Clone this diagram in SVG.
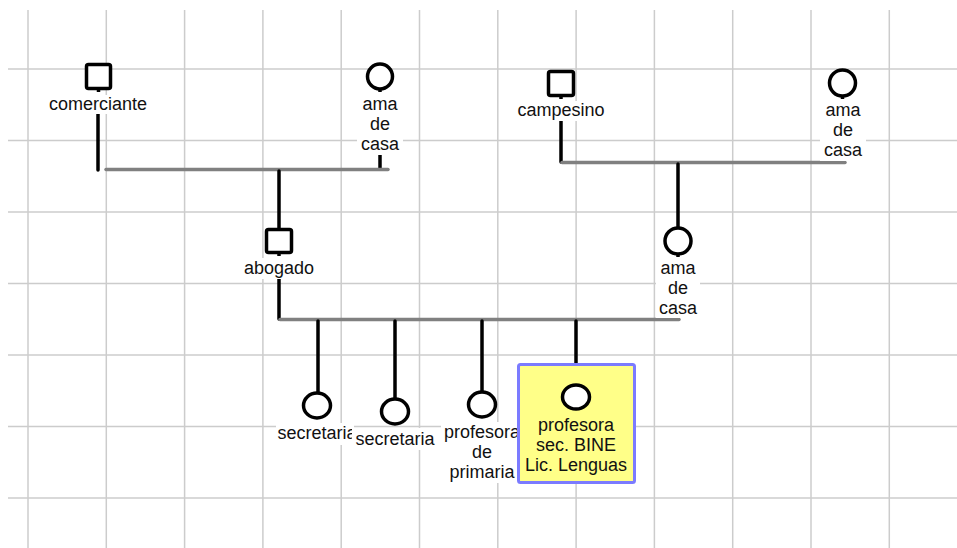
<svg xmlns="http://www.w3.org/2000/svg" width="957" height="548" viewBox="0 0 957 548">
<style>
.grid line{stroke:#cccccc;stroke-width:1.5}
.conn{stroke:#000;stroke-width:3.5;stroke-linecap:round;fill:none}
.couple{stroke:#808080;stroke-width:3.5;stroke-linecap:round;fill:none}
.sym{fill:#fff;stroke:#000;stroke-width:3.5}
.stub{stroke:#000;stroke-width:3.5}
.bg{fill:#fff}
text{font-family:"Liberation Sans",Arial,sans-serif;font-size:18px;fill:#111;text-anchor:middle}
</style>
<rect width="957" height="548" fill="#fff"/>
<g class="grid">
<line x1="28" y1="10" x2="28" y2="548"/>
<line x1="106.3" y1="10" x2="106.3" y2="548"/>
<line x1="184.6" y1="10" x2="184.6" y2="548"/>
<line x1="262.9" y1="10" x2="262.9" y2="548"/>
<line x1="341.2" y1="10" x2="341.2" y2="548"/>
<line x1="419.5" y1="10" x2="419.5" y2="548"/>
<line x1="497.8" y1="10" x2="497.8" y2="548"/>
<line x1="576.1" y1="10" x2="576.1" y2="548"/>
<line x1="654.4" y1="10" x2="654.4" y2="548"/>
<line x1="732.7" y1="10" x2="732.7" y2="548"/>
<line x1="811" y1="10" x2="811" y2="548"/>
<line x1="889.3" y1="10" x2="889.3" y2="548"/>
<line x1="8" y1="69" x2="957" y2="69"/>
<line x1="8" y1="140.5" x2="957" y2="140.5"/>
<line x1="8" y1="212" x2="957" y2="212"/>
<line x1="8" y1="283.5" x2="957" y2="283.5"/>
<line x1="8" y1="355" x2="957" y2="355"/>
<line x1="8" y1="426.5" x2="957" y2="426.5"/>
<line x1="8" y1="498" x2="957" y2="498"/>
</g>
<g id="connectors">
<line class="conn" x1="98" y1="114" x2="98" y2="170"/>
<line class="conn" x1="380" y1="155" x2="380" y2="168"/>
<line class="couple" x1="106" y1="169.5" x2="388" y2="169.5"/>
<line class="conn" x1="279" y1="171" x2="279" y2="228"/>
<line class="conn" x1="561" y1="121" x2="561" y2="162"/>
<line class="couple" x1="562" y1="162.5" x2="845" y2="162.5"/>
<line class="conn" x1="678" y1="164" x2="678" y2="228"/>
<line class="conn" x1="279" y1="279" x2="279" y2="319"/>
<line class="couple" x1="280" y1="319.5" x2="679" y2="319.5"/>
<line class="conn" x1="318" y1="321" x2="318" y2="392"/>
<line class="conn" x1="395" y1="321" x2="395" y2="398"/>
<line class="conn" x1="482" y1="321" x2="482" y2="391"/>
<line class="conn" x1="576" y1="321" x2="576" y2="364"/>
</g>
<g id="comerciante">
<rect class="sym" x="86.5" y="64.5" width="24" height="24" rx="2"/>
<line class="stub" x1="98.5" y1="89" x2="98.5" y2="92"/>
<rect class="bg" x="46" y="95" width="104" height="19"/>
<text x="98" y="110">comerciante</text>
</g>
<g id="ama1">
<circle class="sym" cx="380" cy="76.5" r="12.5"/>
<line class="stub" x1="380" y1="89" x2="380" y2="92"/>
<rect class="bg" x="357" y="95" width="46" height="60"/>
<text x="380" y="110">ama</text>
<text x="380" y="130">de</text>
<text x="380" y="150">casa</text>
</g>
<g id="campesino">
<rect class="sym" x="548.5" y="71.5" width="25" height="24" rx="2"/>
<line class="stub" x1="561" y1="96" x2="561" y2="99"/>
<rect class="bg" x="514" y="101" width="94" height="20"/>
<text x="561" y="116">campesino</text>
</g>
<g id="ama2">
<circle class="sym" cx="842.5" cy="83" r="13"/>
<line class="stub" x1="842.5" y1="96" x2="842.5" y2="99"/>
<rect class="bg" x="820" y="101" width="46" height="60"/>
<text x="843" y="116">ama</text>
<text x="843" y="136">de</text>
<text x="843" y="156">casa</text>
</g>
<g id="abogado">
<rect class="sym" x="266.5" y="229.5" width="25" height="23" rx="2"/>
<line class="stub" x1="279" y1="253" x2="279" y2="256"/>
<rect class="bg" x="242" y="258" width="75" height="21"/>
<text x="279" y="274">abogado</text>
</g>
<g id="ama3">
<circle class="sym" cx="678" cy="241" r="13"/>
<line class="stub" x1="678" y1="254" x2="678" y2="257"/>
<rect class="bg" x="656" y="259" width="44" height="59"/>
<text x="678" y="274">ama</text>
<text x="678" y="294">de</text>
<text x="678" y="314">casa</text>
</g>
<g id="hija1">
<ellipse class="sym" cx="317" cy="405.5" rx="13.5" ry="12.5"/>
<rect class="bg" x="276" y="423" width="78" height="22"/>
<text x="317" y="439">secretaria</text>
</g>
<g id="hija2">
<ellipse class="sym" cx="395" cy="411.5" rx="13.5" ry="12.5"/>
<rect class="bg" x="352" y="428" width="86" height="22"/>
<text x="395" y="445">secretaria</text>
</g>
<g id="hija3">
<ellipse class="sym" cx="482" cy="404.5" rx="13.5" ry="12.5"/>
<rect class="bg" x="441" y="422" width="80" height="61"/>
<text x="482" y="438">profesora</text>
<text x="482" y="458">de</text>
<text x="482" y="478">primaria</text>
</g>
<g id="hija4">
<rect x="518.5" y="364.5" width="116" height="118" rx="2" fill="#ffff88" stroke="#7b7bff" stroke-width="3"/>
<ellipse class="sym" cx="576" cy="397" rx="13.5" ry="12"/>
<text x="576" y="431">profesora</text>
<text x="576" y="451">sec. BINE</text>
<text x="576" y="471">Lic. Lenguas</text>
</g>
</svg>
